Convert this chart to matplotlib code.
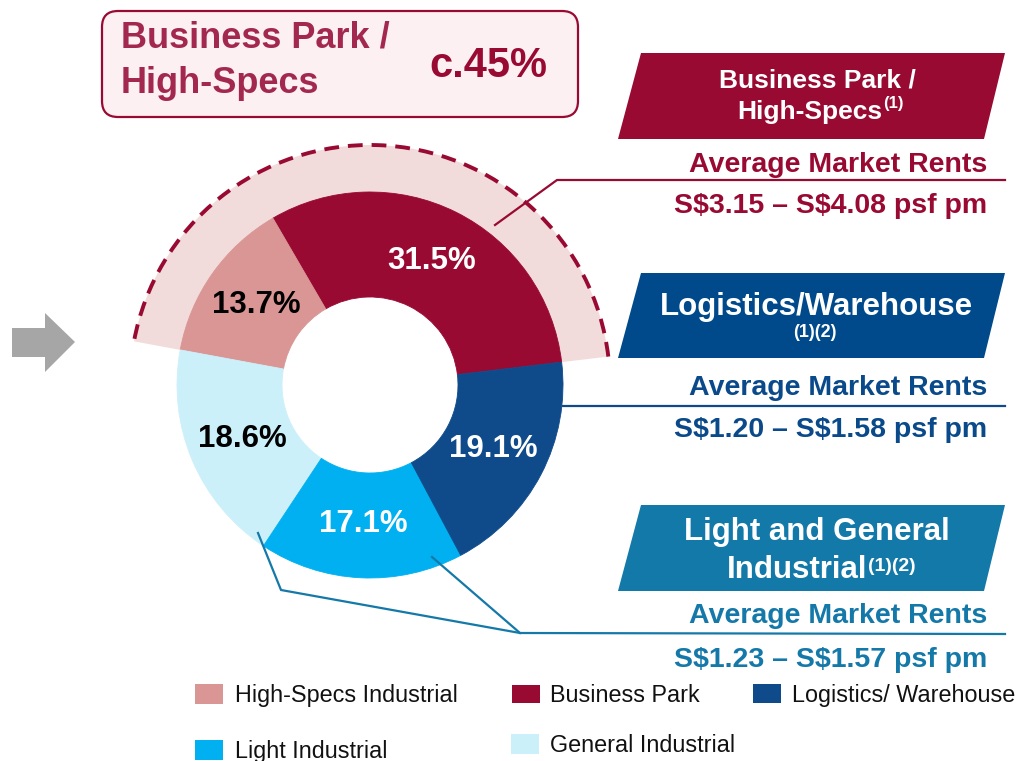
import matplotlib
matplotlib.use('Agg')
import matplotlib.pyplot as plt
from matplotlib.patches import Polygon, FancyBboxPatch, Arc, Rectangle

# ---------------- data ----------------
sectors = ['Business Park', 'High-Specs Industrial', 'General Industrial',
           'Light Industrial', 'Logistics/ Warehouse']
shares = [31.5, 13.7, 18.6, 17.1, 19.1]
sector_colors = ['#990A33', '#D99694', '#CCF0FA', '#00B0F0', '#0F4B8B']
pct_label_colors = ['white', 'black', 'black', 'white', 'white']

legend_order = ['High-Specs Industrial', 'Business Park', 'Logistics/ Warehouse',
                'Light Industrial', 'General Industrial']

highlight_title = ['Business Park /', 'High-Specs']
highlight_value = 'c.45%'

rent_groups = ['Business Park / High-Specs', 'Logistics/Warehouse', 'Light and General Industrial']
rent_low = [3.15, 1.20, 1.23]
rent_high = [4.08, 1.58, 1.57]
rent_caption = 'Average Market Rents'

# ---------------- figure ----------------
W, H = 1022, 761
def Y(y):
    return H - y

FONT = 'Liberation Sans'
plt.rcParams['font.family'] = [FONT, 'DejaVu Sans']

fig = plt.figure(figsize=(W / 100, H / 100), dpi=100)
ax = fig.add_axes([0, 0, 1, 1])

cx, cy = 370, Y(385)
R_out, R_in = 193, 88
R_ring = 240
start = 6.8

# highlight ring (Business Park + High-Specs share)
hl = shares[0] + shares[1]
ring, _ = ax.pie([hl, 100 - hl], radius=R_ring, center=(cx, cy), startangle=start,
                 colors=['#F2DCDB', 'white'], wedgeprops=dict(width=R_ring - R_out + 3, linewidth=0))
ring[1].set_visible(False)

wedges, _, autotexts = ax.pie(
    shares, radius=R_out, center=(cx, cy), startangle=start, colors=sector_colors,
    autopct='%.1f%%', pctdistance=139 / R_out,
    wedgeprops=dict(width=R_out - R_in, linewidth=0.6),
    textprops=dict(fontsize=22.5, fontweight='bold', family=FONT))
for w in wedges:
    w.set_edgecolor(w.get_facecolor())
for t, c in zip(autotexts, pct_label_colors):
    t.set_color(c)
    t.set_zorder(5)

# dashed arc over the highlight ring
ax.add_patch(Arc((cx, cy), 2 * R_ring, 2 * R_ring, theta1=ring[0].theta1, theta2=ring[0].theta2,
                 color='#990A33', lw=2.8, linestyle=(0, (3.8, 2.3)), zorder=3))

# ---------------- top-left highlight box ----------------
ax.add_patch(FancyBboxPatch((102, Y(117)), 476, 106,
                            boxstyle='round,pad=0,rounding_size=16',
                            fc='#FDF0F3', ec='#990A33', lw=1.6, zorder=2))
ax.text(121, Y(47), highlight_title[0], fontsize=26, fontweight='bold', color='#A3284F',
        ha='left', va='baseline')
ax.text(121, Y(93), highlight_title[1], fontsize=26, fontweight='bold', color='#A3284F',
        ha='left', va='baseline')
ax.text(488, Y(77), highlight_value, fontsize=30, fontweight='bold', color='#990A33',
        ha='center', va='baseline')

# ---------------- right side boxes ----------------
box_cols = ['#990A33', '#004A8B', '#1279A8']
text_cols = ['#990A33', '#0A4A8A', '#1479A9']
tops = [53, 273, 505]
bots = [139, 358, 591]
for top, bot, col in zip(tops, bots, box_cols):
    ax.add_patch(Polygon([(641, Y(top)), (1005, Y(top)), (984, Y(bot)), (618, Y(bot))],
                         closed=True, fc=col, ec='none', zorder=2))

# box 1 title
ax.text(817, Y(87), 'Business Park /', fontsize=19, fontweight='bold', color='white',
        ha='center', va='baseline', zorder=4)
ax.text(882, Y(119), 'High-Specs', fontsize=19, fontweight='bold', color='white',
        ha='right', va='baseline', zorder=4)
ax.text(883, Y(108), '(1)', fontsize=12, fontweight='bold', color='white',
        ha='left', va='baseline', zorder=4)
# box 2 title
ax.text(816, Y(315), 'Logistics/Warehouse', fontsize=22.5, fontweight='bold', color='white',
        ha='center', va='baseline', zorder=4)
ax.text(815, Y(337), '(1)(2)', fontsize=13, fontweight='bold', color='white',
        ha='center', va='baseline', zorder=4)
# box 3 title
ax.text(817, Y(540), 'Light and General', fontsize=22.5, fontweight='bold', color='white',
        ha='center', va='baseline', zorder=4)
ax.text(867, Y(578), 'Industrial', fontsize=22.5, fontweight='bold', color='white',
        ha='right', va='baseline', zorder=4)
ax.text(868, Y(571), '(1)(2)', fontsize=14, fontweight='bold', color='white',
        ha='left', va='baseline', zorder=4)

# rents
cap_base = [172, 395, 623]
val_base = [213, 437, 667]
for i in range(3):
    ax.text(987, Y(cap_base[i]), rent_caption, fontsize=20.5, fontweight='bold',
            color=text_cols[i], ha='right', va='baseline')
    ax.text(987, Y(val_base[i]), f'S${rent_low[i]:.2f} \u2013 S${rent_high[i]:.2f} psf pm',
            fontsize=20.5, fontweight='bold', color=text_cols[i], ha='right', va='baseline',
            parse_math=False)

# leader lines
lw = 1.6
ax.plot([495, 557, 1005], [Y(225), Y(180), Y(180)], color=text_cols[0], lw=lw, zorder=4)
ax.plot([563, 1005], [Y(406), Y(406)], color=sector_colors[4], lw=lw, zorder=4)
ax.plot([258, 281, 520, 1005], [Y(533), Y(590), Y(633), Y(634)], color=text_cols[2], lw=lw, zorder=4)
ax.plot([432, 520], [Y(557), Y(633)], color=text_cols[2], lw=lw, zorder=4)

# ---------------- arrow ----------------
ax.add_patch(Polygon([(12, Y(328)), (45, Y(328)), (45, Y(313)), (75, Y(342)),
                      (45, Y(372)), (45, Y(357)), (12, Y(357))],
                     closed=True, fc='#A6A6A6', ec='none'))

# ---------------- legend ----------------
color_of = dict(zip(sectors, sector_colors))
leg_sq_x = [195, 512, 753, 195, 511]
leg_sq_y = [(684, 704), (685, 703), (684, 703), (740, 760), (734, 754)]
leg_txt_x = [235, 550, 792, 235, 550]
leg_txt_base = [702, 702, 702, 758, 752]
for name, sx, (y0, y1), tx, tb in zip(legend_order, leg_sq_x, leg_sq_y, leg_txt_x, leg_txt_base):
    ax.add_patch(Rectangle((sx, Y(y1)), 28, y1 - y0, fc=color_of[name], ec='none'))
    ax.text(tx, Y(tb), name, fontsize=16.8, color='#111111', ha='left', va='baseline')

ax.set_xlim(0, W)
ax.set_ylim(0, H)
ax.set_aspect('auto')
ax.axis('off')

fig.savefig('out.png', dpi=100, facecolor='white')
